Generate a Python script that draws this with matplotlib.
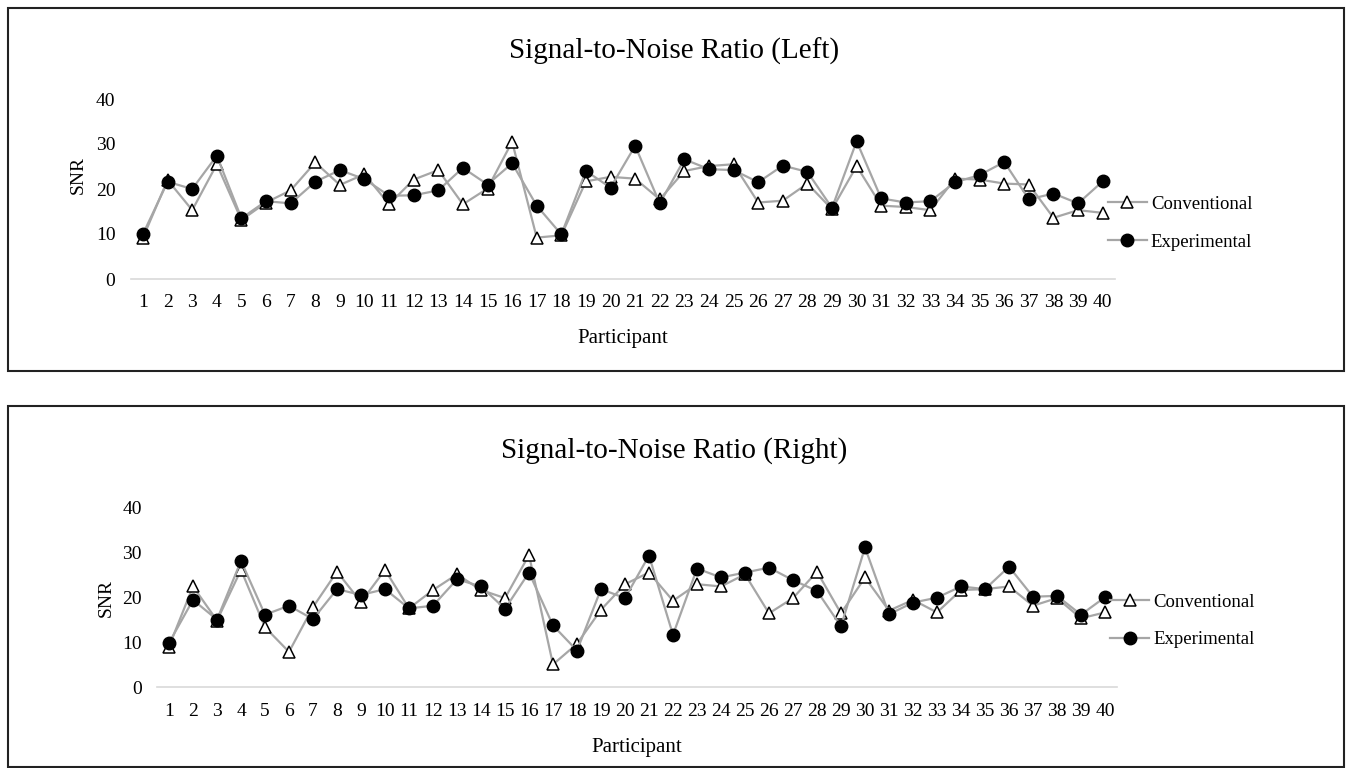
import numpy as np
import matplotlib.pyplot as plt
from matplotlib.patches import Rectangle

# ============================================================
# DATA
# ============================================================
participants = list(range(1, 41))

left_conventional = [9.2, 22.0, 15.3, 25.5, 13.1, 17.0, 19.7, 25.9, 20.9, 23.3,
                     16.6, 22.1, 24.2, 16.6, 20.1, 30.5, 9.2, 9.7, 21.7, 22.7,
                     22.3, 17.7, 24.0, 25.1, 25.5, 17.0, 17.4, 21.2, 15.5, 25.1,
                     16.3, 16.0, 15.3, 22.3, 22.1, 21.2, 21.0, 13.6, 15.3, 14.7]
left_experimental = [10.0, 21.6, 20.0, 27.4, 13.5, 17.3, 16.8, 21.6, 24.2, 22.2,
                     18.5, 18.6, 19.7, 24.7, 21.0, 25.7, 16.3, 9.9, 24.0, 20.3,
                     29.6, 16.8, 26.6, 24.4, 24.2, 21.5, 25.2, 23.8, 15.8, 30.6,
                     17.9, 17.0, 17.3, 21.5, 23.1, 26.0, 17.7, 19.0, 16.8, 21.7]

right_conventional = [9.1, 22.5, 14.9, 26.2, 13.4, 7.9, 17.9, 25.8, 19.0, 26.2,
                      17.6, 21.7, 25.2, 21.7, 19.9, 29.5, 5.1, 9.7, 17.3, 23.0,
                      25.6, 19.3, 23.0, 22.5, 25.2, 16.5, 19.9, 25.8, 16.5, 24.5,
                      17.1, 19.5, 16.7, 21.7, 21.9, 22.5, 18.2, 19.9, 15.4, 16.7]
right_experimental = [9.9, 19.5, 15.1, 28.2, 16.2, 18.2, 15.2, 21.9, 20.6, 21.9,
                      17.6, 18.2, 24.1, 22.5, 17.5, 25.6, 13.8, 8.2, 21.9, 19.9,
                      29.4, 11.7, 26.5, 24.5, 25.6, 26.7, 23.9, 21.5, 13.6, 31.2,
                      16.3, 18.9, 20.0, 22.5, 21.9, 26.9, 20.2, 20.4, 16.2, 20.1]

titles = ['Signal-to-Noise Ratio (Left)', 'Signal-to-Noise Ratio (Right)']
series_names = ['Conventional', 'Experimental']
y_ticks = [0, 10, 20, 30, 40]

# ============================================================
# PLOTTING
# ============================================================
plt.rcParams['font.family'] = ['Liberation Serif', 'DejaVu Serif']

W, H = 1348, 768
fig = plt.figure(figsize=(W / 100, H / 100), dpi=100)

LINE_GRAY = '#a6a6a6'

# panel geometry, in pixels from the top-left corner
panels = [
    dict(conv=left_conventional, exp=left_experimental, title=titles[0],
         x0=130.7, x1=1115, y0=279, y40=99, box=(8, 8, 1344, 371),
         title_y=51, snr=(78, 175), leg=(0.985, 0.31)),
    dict(conv=right_conventional, exp=right_experimental, title=titles[1],
         x0=157, x1=1117, y0=687.3, y40=508, box=(8, 406, 1344, 767),
         title_y=451, snr=(106, 598), leg=(0.985, 0.37)),
]

for p in panels:
    ax = fig.add_axes([p['x0'] / W, 1 - p['y0'] / H,
                       (p['x1'] - p['x0']) / W, (p['y0'] - p['y40']) / H])
    ax.plot(participants, p['conv'], color=LINE_GRAY, linewidth=1.6,
            marker='^', markersize=8.5, markerfacecolor='white',
            markeredgecolor='black', markeredgewidth=1.1, label=series_names[0],
            zorder=2)
    ax.plot(participants, p['exp'], color=LINE_GRAY, linewidth=1.6,
            marker='o', markersize=9, markerfacecolor='black',
            markeredgecolor='black', label=series_names[1], zorder=3)

    ax.set_xlim(0.5, 40.5)
    ax.set_ylim(0, 40)
    ax.set_xticks(participants)
    ax.set_yticks(y_ticks)
    ax.tick_params(length=0, labelsize=14, pad=11)
    for s in ['top', 'right', 'left']:
        ax.spines[s].set_visible(False)
    ax.spines['bottom'].set_color('#d9d9d9')
    ax.spines['bottom'].set_linewidth(1.2)
    ax.set_xlabel('Participant', fontsize=15, labelpad=13)

    ax.legend(loc='center left', bbox_to_anchor=p['leg'], frameon=False,
              fontsize=13.5, handlelength=2.1, handletextpad=0.2,
              labelspacing=1.1, borderaxespad=0)

    fig.text(0.5, 1 - p['title_y'] / H, p['title'], fontsize=21,
             ha='center', va='center')
    fig.text(p['snr'][0] / W, 1 - p['snr'][1] / H, 'SNR', fontsize=14,
             rotation=90, ha='center', va='center')

    bx0, by0, bx1, by1 = p['box']
    fig.add_artist(Rectangle((bx0 / W, 1 - by1 / H), (bx1 - bx0) / W,
                             (by1 - by0) / H, transform=fig.transFigure,
                             fill=False, edgecolor='#222222', linewidth=1.5))

plt.savefig('out.png', dpi=100)
plt.close()
